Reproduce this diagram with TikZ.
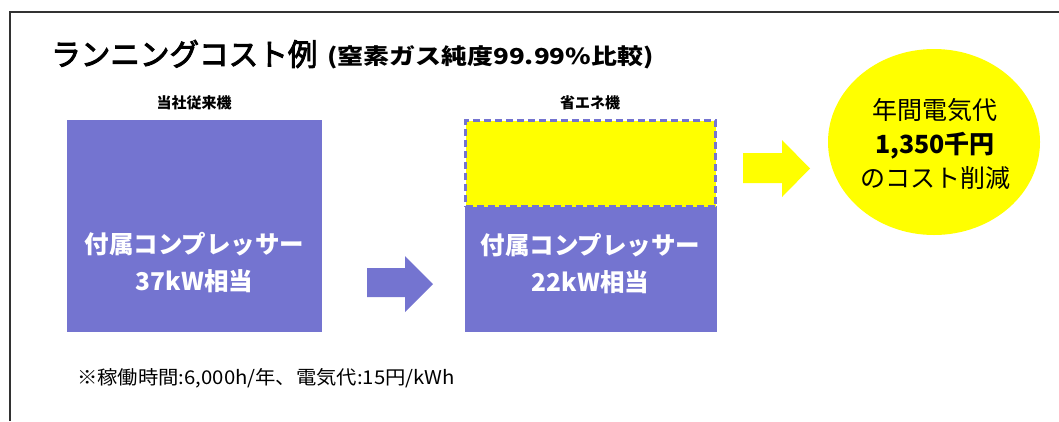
\documentclass[tikz,border=0pt]{standalone}
\usepackage{fontspec}
\setmainfont{Noto Sans CJK JP}
\usetikzlibrary{shapes.geometric}
\definecolor{cpurple}{RGB}{116,116,208}
\definecolor{cyellow}{RGB}{255,255,0}
\definecolor{frame}{RGB}{50,50,50}
\tikzset{
  box/.style={fill=cpurple, draw=none},
  boxtext/.style={text=white, font=\fontsize{24.5}{37}\selectfont\bfseries, align=center},
  caption/.style={font=\fontsize{15}{18}\selectfont\bfseries},
  ellipsetext/.style={font=\fontsize{25}{34}\selectfont, align=center}
}
\begin{document}
\begin{tikzpicture}[x=1pt,y=-1pt]
\useasboundingbox (0,0) rectangle (1059,421);
% frame
\draw[frame, line width=2.4pt] (10,421) -- (10,12) -- (1059,12);
% title
\node[anchor=west, inner sep=0, font=\fontsize{29}{32}\selectfont\addfontfeature{FakeBold=3}] (title) at (51,54) {\scalebox{1.02}[1.05]{ランニングコスト例}};
\node[anchor=west, inner sep=0, font=\fontsize{22}{26}\selectfont\bfseries] (paren) at (327,57) {\scalebox{1.18}[1]{(窒素ガス純度99.99\%比較)}};
% labels
\node[caption] (lbl1) at (194,103) {当社従来機};
\node[caption] (lbl2) at (590,103) {省エネ機};
% left box
\node[box, minimum width=255, minimum height=212, inner sep=0] (box1) at (194.5,226) {};
\node[boxtext] (t1) at (194.5,263) {付属コンプレッサー\\37kW相当};
% right box
\node[box, minimum width=252, minimum height=126, inner sep=0] (box2p) at (590.5,269) {};
\node[fill=cyellow, draw=cpurple, dash pattern=on 7pt off 4pt, line width=2.4pt, minimum width=250, minimum height=86, inner sep=0] (box2y) at (590.5,163.5) {};
\node[boxtext] (t2) at (590.5,264) {付属コンプレッサー\\22kW相当};
% arrows
\fill[cpurple] (367,268) -- (405,268) -- (405,256) -- (433,284) -- (405,312) -- (405,297) -- (367,297) -- cycle;
\fill[cyellow] (743,153) -- (782,153) -- (782,140) -- (810,168.5) -- (782,197) -- (782,183) -- (743,183) -- cycle;
% ellipse
\node[ellipse, fill=cyellow, minimum width=212, minimum height=186, inner sep=0] (ell) at (934,142) {};
\node[ellipsetext] (et) at (935,144) {年間電気代\\{\bfseries 1,350千円}\\のコスト削減};
% note
\node[anchor=west, inner sep=0, font=\fontsize{19}{22}\selectfont] (note) at (77,378) {\scalebox{1.07}[1]{※稼働時間:6,000h/年、電気代:15円/kWh}};
\end{tikzpicture}
\end{document}
